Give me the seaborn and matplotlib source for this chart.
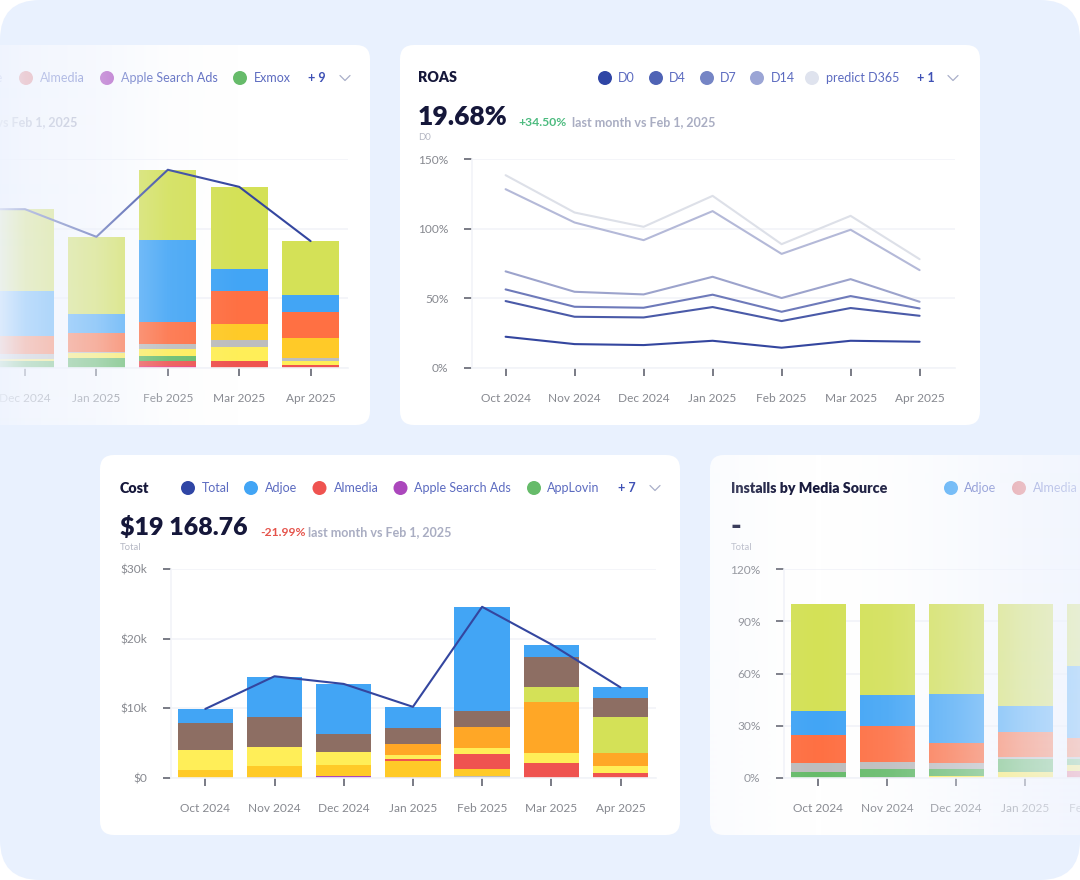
import numpy as np
import seaborn as sns
import matplotlib.pyplot as plt
from matplotlib.colors import to_rgb
from matplotlib.lines import Line2D
from matplotlib.patches import Circle, FancyBboxPatch

W, H = 1080, 880

# top left card (bars are cut off by the canvas, Nov only shows through the line)
rev_months = ["Nov 2024", "Dec 2024", "Jan 2025", "Feb 2025", "Mar 2025", "Apr 2025"]
rev_total = [114.2, 114.2, 94.3, 142.6, 130.3, 91.2]
rev_pink = [0, 0, 1.4, 0, 0]
rev_red = [0, 0, 3.4, 5.0, 1.7]
rev_green = [5.0, 7.0, 3.6, 0, 0]
rev_yellow = [1.0, 3.8, 5.0, 9.8, 2.9]
rev_gray = [3.8, 0.7, 3.6, 5.0, 2.6]
rev_gold = [0, 0, 0, 11.5, 14.4]
rev_orange = [13.2, 13.2, 15.6, 24.2, 18.5]
rev_blue = [32.2, 13.9, 59.3, 15.6, 12.2]
rev_lime = [59.0, 55.7, 50.6, 59.0, 38.9]

# ROAS card
months = ["Oct 2024", "Nov 2024", "Dec 2024", "Jan 2025", "Feb 2025", "Mar 2025", "Apr 2025"]
roas_d0 = [22.3, 17.0, 16.3, 19.4, 14.4, 19.4, 18.7]
roas_d4 = [48.0, 36.7, 36.2, 43.7, 33.6, 43.0, 37.4]
roas_d7 = [56.4, 43.9, 43.2, 52.6, 40.3, 51.6, 42.7]
roas_d14 = [69.4, 54.7, 52.8, 65.5, 50.2, 63.8, 47.5]
roas_d30 = [128.6, 104.6, 91.9, 112.8, 82.0, 99.4, 70.3]
roas_d365 = [138.7, 111.8, 101.5, 123.8, 89.0, 109.4, 78.2]

# cost card, in $k
cost_total = [9.9, 14.6, 13.5, 10.2, 24.6, 19.2, 13.0]
cost_tiny = [0, 0.1, 0, 0.1, 0, 0, 0]
cost_purple = [0, 0, 0.25, 0, 0, 0, 0]
cost_gray = [0, 0, 0, 0, 0.3, 0, 0]
cost_gold = [1.1, 1.6, 1.6, 2.3, 1.0, 0, 0]
cost_red = [0, 0, 0, 0.3, 2.15, 2.15, 0.7]
cost_yellow = [2.9, 2.7, 1.9, 0.6, 0.8, 1.4, 1.05]
cost_orange = [0, 0, 0, 1.5, 3.0, 7.4, 1.75]
cost_lime = [0, 0, 0, 0, 0, 2.1, 5.25]
cost_brown = [3.9, 4.4, 2.5, 2.3, 2.3, 4.3, 2.75]
cost_blue = [2.0, 5.7, 7.25, 3.1, 15.0, 1.8, 1.5]

# installs card, in %, Mar and Apr are off the canvas
inst_months = months[:5]
inst_dark = [0, 0.6, 0, 0, 0]
inst_pink = [0, 0, 0, 0, 3.8]
inst_yellow = [0, 0, 1.0, 3.3, 3.5]
inst_green = [3.1, 4.4, 4.0, 7.7, 3.5]
inst_gray = [5.4, 4.0, 3.6, 1.2, 1.2]
inst_orange = [15.9, 20.5, 11.5, 14.0, 10.8]
inst_blue = [14.2, 18.4, 27.9, 15.0, 41.7]
inst_lime = [61.2, 51.9, 52.0, 58.8, 35.5]

LIME = "#D4E157"
BLUE = "#42A5F5"
DEEP = "#FF7043"
GOLD = "#FFCA28"
YELLOW = "#FFEE58"
GRAY = "#BDBDBD"
GREEN = "#66BB6A"
RED = "#EF5350"
PURPLE = "#AB47BC"
BROWN = "#8D6E63"
ORANGE = "#FFA726"
NAVY = "#34469F"
PAGE = "#E9F1FE"
INK = "#15173A"
LINK = "#5C6BC0"
MUTED = "#A9ADC2"
TICK = "#86888F"
GRID = "#F2F4F8"

sns.set_theme(style="white")
plt.rcParams["font.family"] = ["Lato", "DejaVu Sans"]

fig = plt.figure(figsize=(W / 100, H / 100), dpi=100, facecolor="white")


def px_axes(left, top, right, bottom, **kw):
    return fig.add_axes([left / W, 1 - bottom / H, (right - left) / W, (bottom - top) / H], **kw)


bg = px_axes(0, 0, W, H, zorder=-1)
bg.set_xlim(0, W)
bg.set_ylim(H, 0)
bg.axis("off")
bg.add_patch(FancyBboxPatch((0, 0), W, H, boxstyle="round,pad=0,rounding_size=40", fc=PAGE, ec="none"))

card_boxes = [(-210, 45), (400, 45), (100, 455), (710, 455)]
for cx, cy in card_boxes:
    bg.add_patch(FancyBboxPatch((cx, cy), 580, 380, boxstyle="round,pad=0,rounding_size=14", fc="white", ec="none"))


def label(x, y, s, size=9.0, color=LINK, weight="normal", ha="left"):
    fig.text(x / W, 1 - y / H, s, fontsize=size, color=color, fontweight=weight, ha=ha, va="center", zorder=5)


def legend_row(y, dots, more, more_x, chevron_x):
    for dot_x, text_x, name, c in dots:
        bg.add_patch(Circle((dot_x, y), 7, fc=c, ec="none"))
        label(text_x, y, name)
    label(more_x, y, more, color="#3F51B5", weight="bold", ha="center")
    bg.add_line(Line2D([chevron_x - 5, chevron_x, chevron_x + 5], [y - 2.5, y + 2.5, y - 2.5], color="#A9AFC9", lw=0.9))


def style_axes(ax, ymax, yticks, ylabels, xlabels, left_x, spacing, first_x, right_x, ypad):
    ax.set_facecolor("none")
    ax.set_yticks(yticks, ylabels)
    ax.set_xticks(range(len(xlabels)), xlabels)
    ax.set_xlim((left_x - first_x) / spacing, (right_x - first_x) / spacing)
    ax.set_ylim(0, ymax)
    ax.set_xlabel("")
    ax.set_ylabel("")
    ax.grid(axis="y", color=GRID, lw=1.2)
    ax.set_axisbelow(True)
    ax.tick_params(axis="x", length=6, width=1.3, color="#6E717C", labelcolor=TICK, labelsize=8.6, pad=12.5, bottom=True)
    ax.tick_params(axis="y", length=6, width=1.3, color="#6E717C", labelcolor=TICK, labelsize=8.6, pad=ypad, left=True)
    sns.despine(ax=ax, top=True, right=True)
    ax.spines["left"].set_color(GRID)
    ax.spines["bottom"].set_color(GRID)
    ax.spines["left"].set_linewidth(1.2)
    ax.spines["bottom"].set_linewidth(1.2)


def stacked(ax, cats, order, series):
    bottom = np.zeros(len(cats))
    for vals, c in series:
        sns.barplot(x=cats, y=vals, order=order, color=c, saturation=1, width=0.8, bottom=bottom, ax=ax,
                    errorbar=None, linewidth=0)
        bottom = bottom + np.array(vals)


# --- top left card ---
ax = px_axes(-5, 159.5, 348, 367.7)
stacked(ax, rev_months[1:], rev_months, [
    (rev_pink, "#EC407A"), (rev_red, RED), (rev_green, GREEN), (rev_yellow, YELLOW), (rev_gray, GRAY),
    (rev_gold, GOLD), (rev_orange, DEEP), (rev_blue, BLUE), (rev_lime, LIME)])
sns.lineplot(x=np.arange(6), y=rev_total, color=NAVY, linewidth=1.5, ax=ax, legend=False)
style_axes(ax, 150, [0, 50, 100, 150], ["", "", "", ""], rev_months, -5, 71.4, -46.4, 348, 6)
ax.tick_params(axis="y", left=False)
ax.spines["left"].set_visible(False)
label(3.5, 78, "Adjoe", ha="right")
legend_row(78, [(26, 40, "Almedia", "#E57373"), (107, 121, "Apple Search Ads", "#AB47BC"), (240, 254, "Exmox", GREEN)],
           "+ 9", 317, 345)
label(77, 122, "last month vs Feb 1, 2025", color=MUTED, weight="bold", ha="right")

# --- ROAS card ---
ax = px_axes(472, 159.5, 955, 367.7)
roas_series = [(roas_d365, "#DDE0E8"), (roas_d30, "#B4B9D8"), (roas_d14, "#9CA3CC"), (roas_d7, "#6E7ABA"),
               (roas_d4, "#4A5AA8"), (roas_d0, NAVY)]
for vals, c in roas_series:
    sns.lineplot(x=np.arange(7), y=vals, color=c, linewidth=1.5, ax=ax, legend=False)
style_axes(ax, 150, [0, 50, 100, 150], ["0%", "50%", "100%", "150%"], months, 472, 69, 505.6, 955, 11)
label(418, 78, "ROAS", size=10.3, color=INK, weight="heavy")
legend_row(78, [(605, 618, "D0", "#2F45A5"), (656, 669, "D4", "#4F63B5"), (707, 720, "D7", "#7585C5"),
                (757, 771, "D14", "#9BA5D5"), (812, 826, "predict D365", "#DFE3EE")], "+ 1", 926, 953)
label(418, 117, "19.68%", size=19, color=INK, weight="heavy")
label(518, 122, "+34.50%", size=8.7, color="#4CBB7F", weight="bold")
label(572, 122, "last month vs Feb 1, 2025", color=MUTED, weight="bold")
label(418, 138, "D0", size=6.8, color="#B5B8C4")

# --- cost card ---
ax = px_axes(171, 569.3, 656, 777.7)
stacked(ax, months, months, [
    (cost_tiny, "#C9763E"), (cost_purple, PURPLE), (cost_gray, GRAY), (cost_gold, GOLD), (cost_red, RED),
    (cost_yellow, YELLOW), (cost_orange, ORANGE), (cost_lime, LIME), (cost_brown, BROWN), (cost_blue, BLUE)])
sns.lineplot(x=np.arange(7), y=cost_total, color=NAVY, linewidth=1.5, ax=ax, legend=False)
style_axes(ax, 30, [0, 10, 20, 30], ["$0", "$10k", "$20k", "$30k"], months, 171, 69.2, 205.3, 656, 11)
label(120, 488, "Cost", size=10.3, color=INK, weight="heavy")
legend_row(488, [(188, 201.5, "Total", "#2F45A5"), (251, 264.5, "Adjoe", BLUE), (319.5, 333.5, "Almedia", RED),
                 (400.5, 414, "Apple Search Ads", PURPLE), (534, 547, "AppLovin", GREEN)], "+ 7", 627, 655)
label(120, 527, "$19 168.76", size=18, color=INK, weight="heavy")
label(260, 532, "-21.99%", size=8.7, color="#E5534B", weight="bold")
label(308, 532, "last month vs Feb 1, 2025", color=MUTED, weight="bold")
label(120, 548, "Total", size=6.8, color="#B5B8C4")

# --- installs card ---
ax = px_axes(784, 569.3, 1269, 777.7)
stacked(ax, inst_months, inst_months, [
    (inst_dark, "#78798A"), (inst_pink, "#EC6A80"), (inst_yellow, YELLOW), (inst_green, GREEN), (inst_gray, GRAY),
    (inst_orange, DEEP), (inst_blue, BLUE), (inst_lime, LIME)])
style_axes(ax, 120, [0, 30, 60, 90, 120], ["0%", "30%", "60%", "90%", "120%"], inst_months, 784, 69, 818.3, 1269, 11)
label(731, 488, "Installs by Media Source", size=10.3, color=INK, weight="heavy")
bg.add_patch(Circle((951, 488), 7, fc=BLUE, ec="none"))
label(964, 488, "Adjoe")
bg.add_patch(Circle((1019, 488), 7, fc="#E57373", ec="none"))
label(1033, 488, "Almedia")
label(731, 527, "-", size=20.5, color=INK, weight="heavy")
label(731, 548, "Total", size=6.8, color="#B5B8C4")

# fade over the two cards that run off the canvas
fade_ax = px_axes(0, 0, W, H, zorder=10)
fade_ax.set_xlim(0, W)
fade_ax.set_ylim(H, 0)
fade_ax.axis("off")
fade_rgb = to_rgb("#EEF3FE")
xs = np.arange(W)
left_alpha = np.interp(xs, [0, 25, 96, 168, 240], [0.9, 0.72, 0.5, 0.12, 0])
right_alpha = np.interp(xs, [710, 780, 818, 887, 956, 1025, 1094], [0.25, 0.05, 0, 0.1, 0.33, 0.6, 0.8])
for alpha, (cx, cy) in [(left_alpha, card_boxes[0]), (right_alpha, card_boxes[3])]:
    rgba = np.ones((1, W, 4))
    rgba[..., :3] = fade_rgb
    rgba[..., 3] = alpha
    im = fade_ax.imshow(rgba, extent=(0, W, H, 0), aspect="auto", interpolation="bilinear")
    clip = FancyBboxPatch((cx, cy), 580, 380, boxstyle="round,pad=0,rounding_size=14", transform=fade_ax.transData, fc="none", ec="none")
    fade_ax.add_patch(clip)
    im.set_clip_path(clip)
fade_ax.set_xlim(0, W)
fade_ax.set_ylim(H, 0)

fig.savefig("out.png", dpi=100, facecolor="white")
